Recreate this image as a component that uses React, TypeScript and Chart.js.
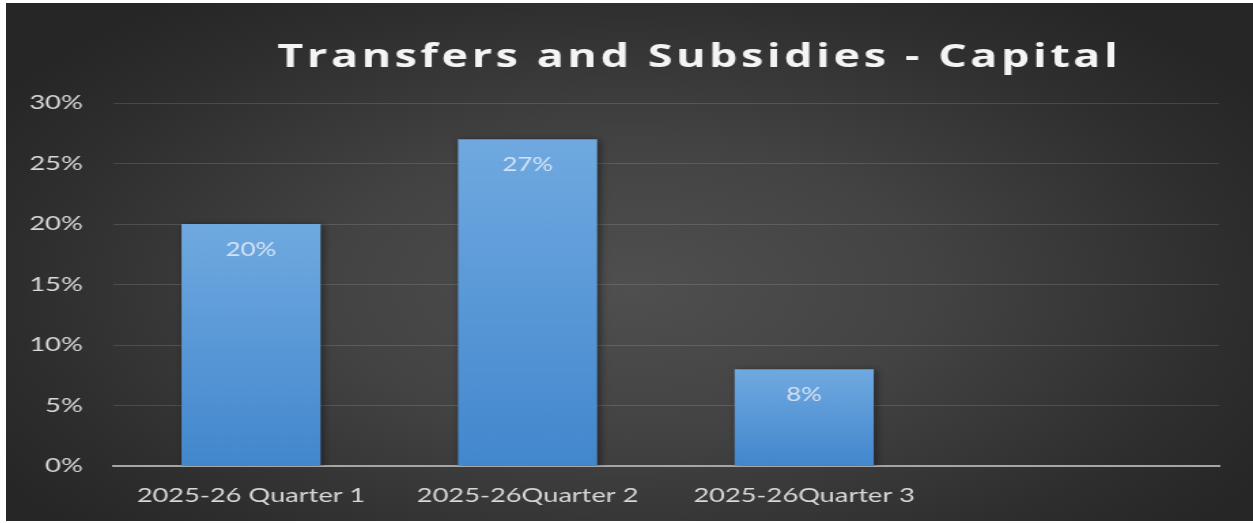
import React, { useEffect, useRef } from 'react';
import { Chart, registerables } from 'chart.js';

Chart.register(...registerables);

// ---- data ----
const categories = ['2025-26 Quarter 1', '2025-26Quarter 2', '2025-26Quarter 3', ''];
const values: (number | null)[] = [20, 27, 8, null];
const yMin = 0;
const yMax = 30;
const yStep = 5;
const titleText = 'Transfers and Subsidies - Capital';

// ---- layout (display stretched horizontally, like the reference) ----
const DISPLAY_W = 1247;
const DISPLAY_H = 518;
const STRETCH = 1.36;
const CANVAS_W = Math.round(DISPLAY_W / STRETCH);

const TICK_COLOR = '#d9d9d9';
const FONT = 'Lato';

const titlePlugin = {
  id: 'customTitle',
  afterDraw(chart: any) {
    const ctx = chart.ctx as CanvasRenderingContext2D;
    ctx.save();
    ctx.font = `bold 33px "Open Sans"`;
    ctx.fillStyle = '#f4f4f4';
    ctx.textBaseline = 'alphabetic';
    ctx.textAlign = 'left';
    const targetW = 618;
    (ctx as any).letterSpacing = '0px';
    const w0 = ctx.measureText(titleText).width;
    const ls = Math.max(0, (targetW - w0) / (titleText.length - 1));
    (ctx as any).letterSpacing = `${ls}px`;
    const cx = 508.5;
    ctx.fillText(titleText, cx - targetW / 2, 64);
    ctx.restore();
  },
};

const shadowPlugin = {
  id: 'barShadow',
  beforeDatasetDraw(chart: any) {
    const ctx = chart.ctx as CanvasRenderingContext2D;
    ctx.save();
    ctx.shadowColor = 'rgba(0,0,0,0.45)';
    ctx.shadowBlur = 6;
    ctx.shadowOffsetX = 2;
    ctx.shadowOffsetY = 1;
  },
  afterDatasetDraw(chart: any) {
    chart.ctx.restore();
  },
};

const barLabelPlugin = {
  id: 'barLabels',
  afterDatasetsDraw(chart: any) {
    const ctx = chart.ctx as CanvasRenderingContext2D;
    const meta = chart.getDatasetMeta(0);
    ctx.save();
    ctx.font = `19px ${FONT}`;
    ctx.fillStyle = 'rgba(228,236,247,0.88)';
    ctx.textAlign = 'center';
    ctx.textBaseline = 'middle';
    meta.data.forEach((el: any, i: number) => {
      const v = values[i];
      if (v == null) return;
      ctx.fillText(`${v}%`, el.x, el.y + 26);
    });
    ctx.restore();
  },
};

export default function App() {
  const canvasRef = useRef<HTMLCanvasElement | null>(null);

  useEffect(() => {
    const canvas = canvasRef.current;
    if (!canvas) return;
    const chart = new Chart(canvas, {
      type: 'bar',
      data: {
        labels: categories,
        datasets: [
          {
            data: values as any,
            backgroundColor: (c: any) => {
              const ch = c.chart;
              const v = c.raw;
              if (!ch.chartArea || v == null || !ch.scales.y) return '#5b9bd5';
              const top = ch.scales.y.getPixelForValue(v);
              const bottom = ch.scales.y.getPixelForValue(0);
              const g = ch.ctx.createLinearGradient(0, top, 0, bottom);
              g.addColorStop(0, '#70a9e0');
              g.addColorStop(1, '#4287cd');
              return g;
            },
            borderWidth: 0,
            categoryPercentage: 0.503,
            barPercentage: 1,
          },
        ],
      },
      options: {
        responsive: false,
        devicePixelRatio: 1,
        animation: false,
        layout: { padding: { top: 100, left: 0, right: 25, bottom: 0 } },
        plugins: {
          legend: { display: false },
          title: { display: false },
          tooltip: { enabled: false },
        },
        scales: {
          x: {
            grid: { display: false, drawTicks: false },
            border: { display: true, color: '#a6a6a6', width: 2 },
            ticks: {
              color: TICK_COLOR,
              font: { family: FONT, size: 20 },
              padding: 18,
              maxRotation: 0,
              autoSkip: false,
            },
            afterFit: (s: any) => {
              s.height = 55;
            },
          },
          y: {
            min: yMin,
            max: yMax,
            grid: { color: 'rgba(255,255,255,0.13)', lineWidth: 1, drawTicks: false },
            border: { display: false },
            ticks: {
              stepSize: yStep,
              color: TICK_COLOR,
              font: { family: FONT, size: 20 },
              padding: 22,
              callback: (v: any) => `${v}%`,
            },
            afterFit: (s: any) => {
              s.width = 78.5;
            },
          },
        },
      },
      plugins: [titlePlugin, shadowPlugin, barLabelPlugin],
    });
    return () => chart.destroy();
  }, []);

  return (
    <div
      style={{
        position: 'absolute',
        left: 6,
        top: 3,
        width: DISPLAY_W,
        height: DISPLAY_H,
        background:
          'radial-gradient(ellipse 60% 70% at 50% 55%, #4f4f4f 0%, #434343 40%, #2e2e2e 80%, #262626 100%)',
        overflow: 'hidden',
      }}
    >
      <canvas
        ref={canvasRef}
        width={CANVAS_W}
        height={DISPLAY_H}
        style={{ width: DISPLAY_W + 'px', height: DISPLAY_H + 'px', display: 'block' }}
      />
    </div>
  );
}
